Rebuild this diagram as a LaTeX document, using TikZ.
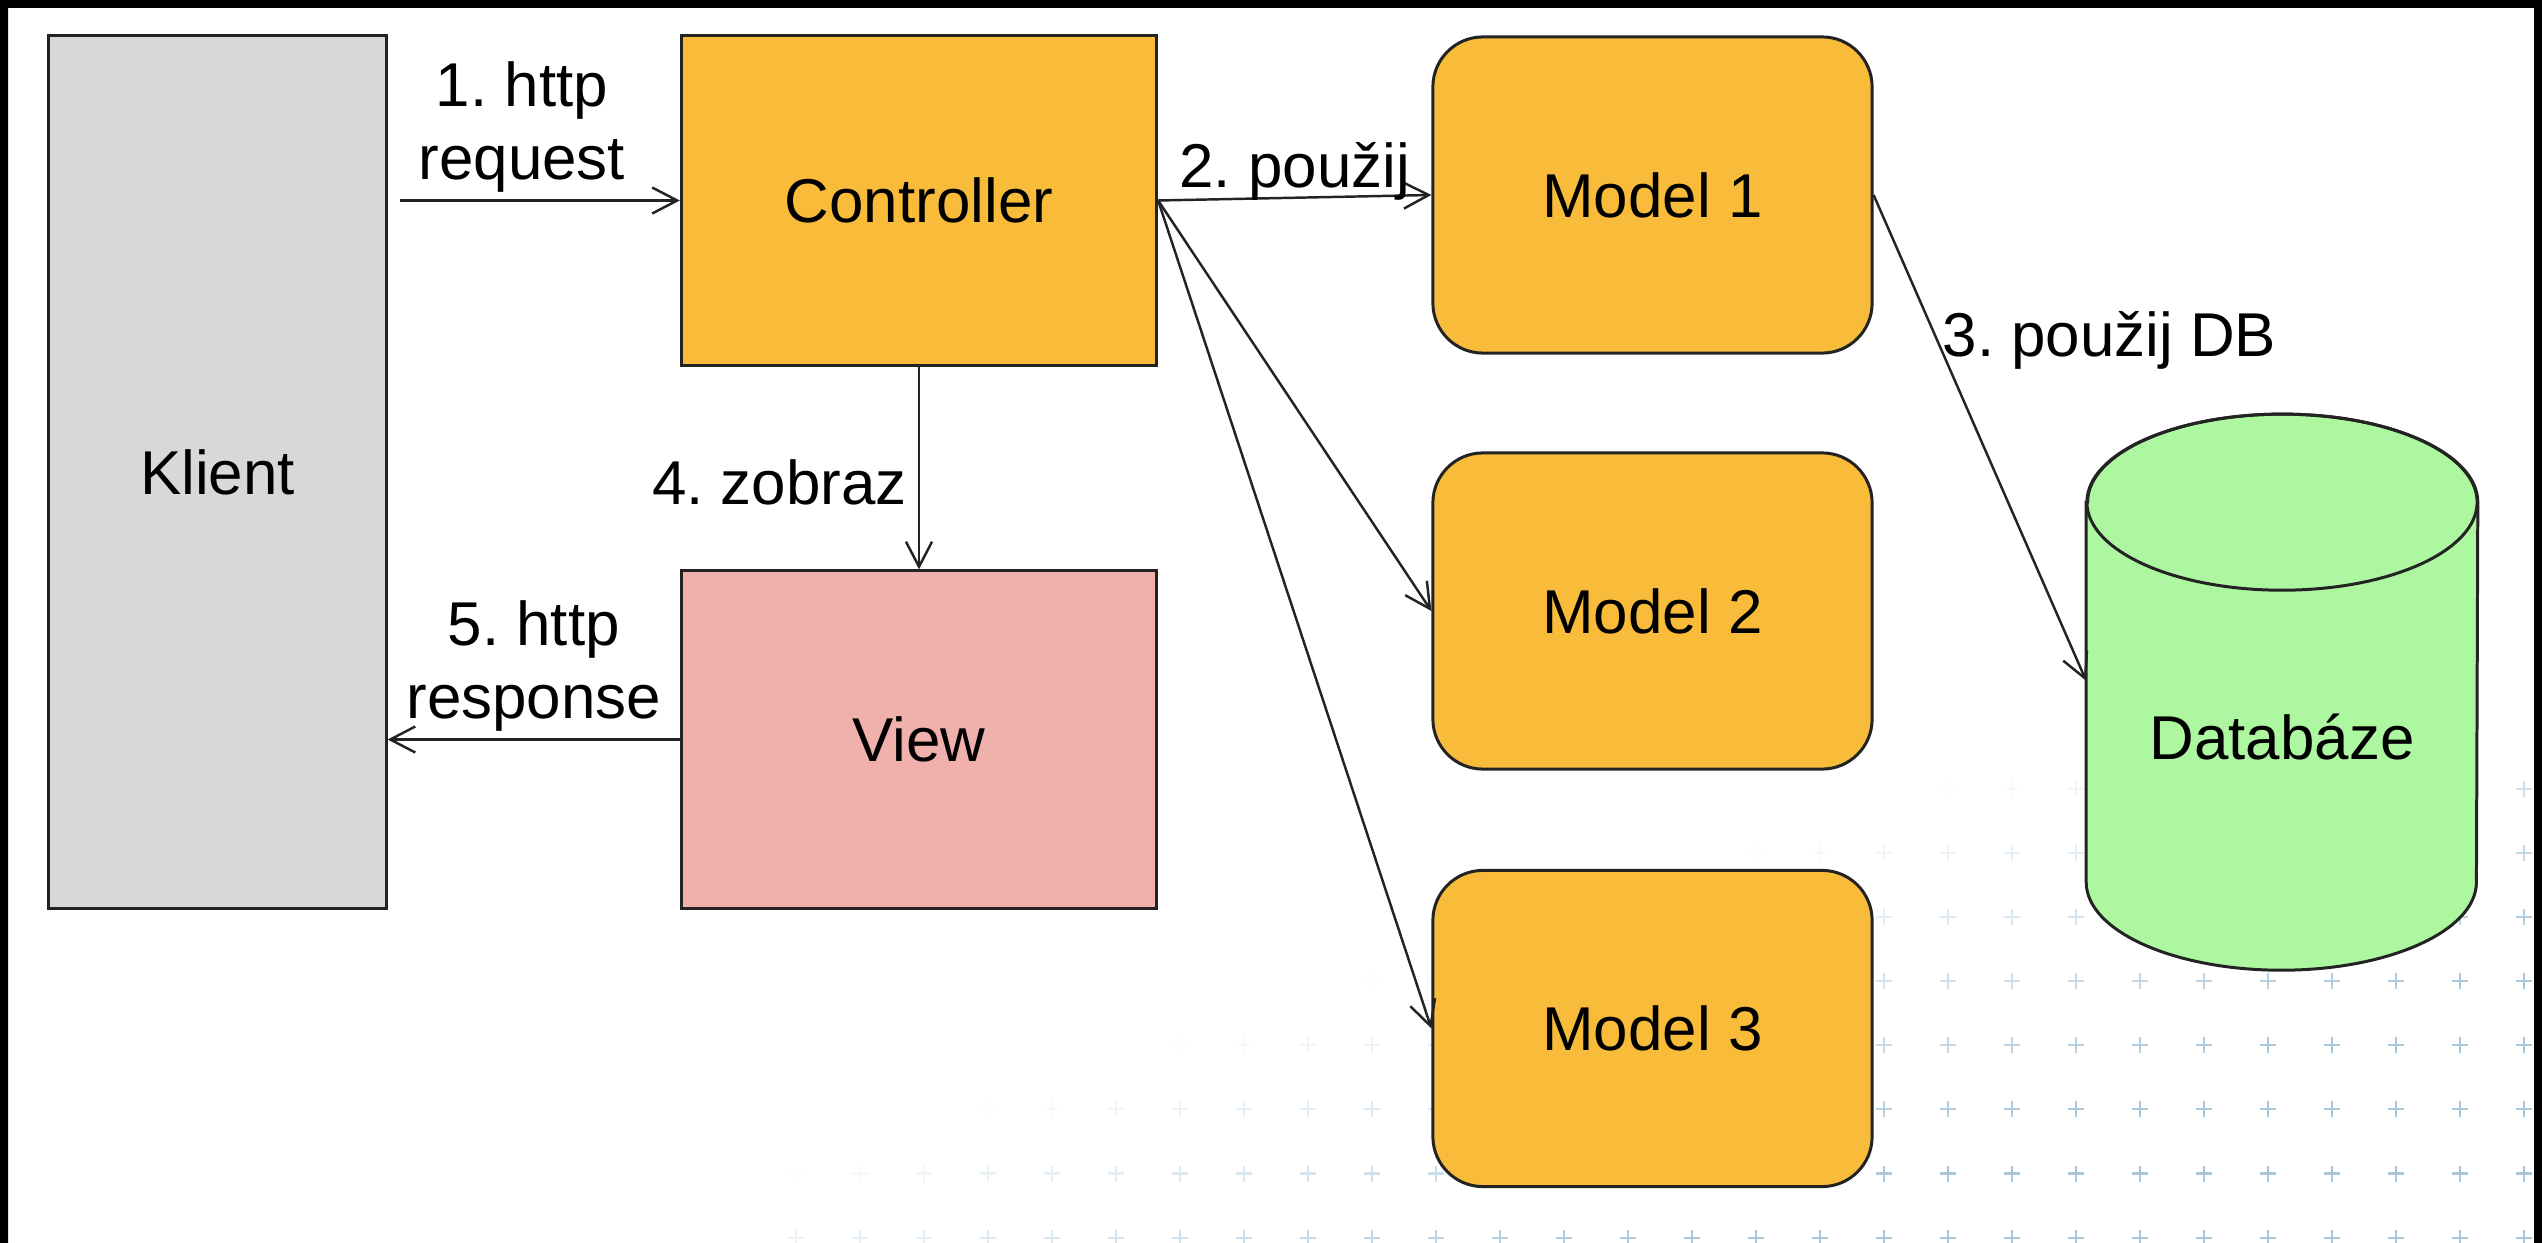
\documentclass[tikz,border=0pt]{standalone}
\usepackage{fontspec}
\setmainfont{Liberation Sans}
\usetikzlibrary{arrows.meta,backgrounds}
\frenchspacing

\definecolor{klientgray}{RGB}{216,216,216}
\definecolor{mvcorange}{RGB}{248,188,58}
\definecolor{viewpink}{RGB}{240,176,172}
\definecolor{dbgreen}{RGB}{173,247,160}
\definecolor{plusblue}{RGB}{150,188,214}
\definecolor{edgegray}{RGB}{35,35,35}

\tikzset{
  box/.style={draw=edgegray, line width=0.85pt, inner sep=0pt},
  klientbox/.style={box, fill=klientgray, minimum width=3.37cm, minimum height=8.72cm},
  ctrlbox/.style={box, fill=mvcorange, minimum width=4.75cm, minimum height=3.29cm},
  viewbox/.style={box, fill=viewpink, minimum width=4.75cm, minimum height=3.37cm},
  modelbox/.style={box, fill=mvcorange, rounded corners=0.5cm, minimum width=4.39cm, minimum height=3.16cm},
  dbbox/.style={inner sep=0pt, minimum width=3.9cm, minimum height=4.68cm},
  arr/.style={-{Straight Barb[length=0.25cm,width=0.26cm]}, line width=0.7pt, draw=edgegray},
  lbl/.style={inner sep=0pt, align=center},
}

\begin{document}
\begin{tikzpicture}[x=0.01cm, y=-0.01cm, font=\fontsize{17.6}{20.8}\selectfont]
\useasboundingbox (0,0) rectangle (2542,1243);

% boxes
\node[klientbox] (klient) at (217.5,472) {Klient};
\node[ctrlbox] (ctrl) at (919,200.5) {Controller};
\node[viewbox] (view) at (919,739.5) {View};
\node[modelbox] (m1) at (1652.5,195) {Model 1};
\node[modelbox] (m2) at (1652.5,611) {Model 2};
\node[modelbox] (m3) at (1652.5,1028.5) {Model 3};
\node[dbbox] (db) at (2282,737) {Datab\'aze};
\coordinate (req) at (400,200.5);

% background: plus pattern and cylinder
\begin{scope}[on background layer]
\foreach \i in {12,...,39}{
  \foreach \j in {-1,...,6}{
    \pgfmathsetmacro{\px}{28+64*\i}
    \pgfmathsetmacro{\py}{853+64.1*\j}
    \pgfmathsetmacro{\op}{0.85*max(0,min(1,(\px+3*\py-4250)/1200))}
    \draw[plusblue, line width=0.6pt, opacity=\op] (\px-8,\py) -- (\px+8,\py) (\px,\py-8) -- (\px,\py+8);
  }
}
\filldraw[fill=dbgreen, draw=edgegray, line width=0.85pt] (db.north west) -- ++(0,380)
  arc[start angle=180, end angle=360, x radius=1.95cm, y radius=0.88cm]
  -- (db.north east)
  arc[start angle=0, end angle=180, x radius=1.95cm, y radius=0.88cm] -- cycle;
\draw[edgegray, line width=0.85pt] (db.north) ellipse[x radius=1.95cm, y radius=0.88cm];
\end{scope}

% connectors
\draw[arr] (req) -- node[lbl, above=0.07cm, xshift=-0.18cm] {1. http\\request} (ctrl.west);
\draw[arr] (ctrl.east) -- node[lbl, above=-0.035cm] {2. pou\v{z}ij} (m1.west);
\draw[arr] (ctrl.east) -- (m2.west);
\draw[arr] (ctrl.east) -- (m3.west);
\draw[arr] (m1.east) -- node[lbl, right=0.04cm, pos=0.3] {3. pou\v{z}ij DB} (db.164);
\draw[arr] (ctrl.south) -- node[lbl, left=0.11cm, pos=0.57] {4. zobraz} (view.north);
\draw[arr] (view.west) -- node[lbl, above=0.07cm] {5. http\\response} (view.west -| klient.east);

% frame
\fill[black, even odd rule] (0,0) rectangle (2542,1243) (8,8) rectangle (2534,1243);
\end{tikzpicture}
\end{document}
